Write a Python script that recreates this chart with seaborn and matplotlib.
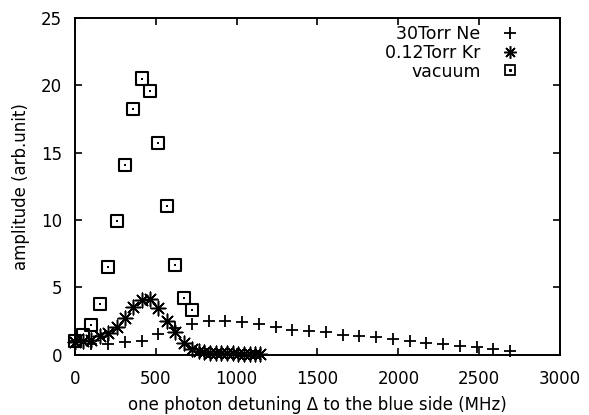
import numpy as np
import pandas as pd
import matplotlib
matplotlib.use("Agg")
import matplotlib.pyplot as plt
from matplotlib.lines import Line2D
from matplotlib.legend_handler import HandlerTuple
import seaborn as sns

# ---- data ----
ne_x = [0, 103, 207, 310, 414, 517, 621, 724, 828, 931, 1035, 1138, 1242, 1345,
        1449, 1552, 1656, 1759, 1863, 1966, 2070, 2173, 2277, 2380, 2484, 2587, 2691]
ne_y = [1.0, 0.8, 0.8, 0.93, 1.05, 1.55, 2.0, 2.3, 2.5, 2.5, 2.43, 2.25, 2.05, 1.85,
        1.75, 1.68, 1.5, 1.43, 1.3, 1.18, 1.0, 0.85, 0.8, 0.68, 0.55, 0.43, 0.3]

kr_x = [0, 52, 103, 155, 207, 259, 310, 362, 414, 466, 517, 569, 621, 673, 724,
        765, 800, 835, 870, 905, 940, 975, 1010, 1045, 1080, 1115, 1145]
kr_y = [0.95, 1.0, 1.08, 1.4, 1.65, 2.07, 2.7, 3.55, 4.05, 4.17, 3.48, 2.5, 1.7, 0.9, 0.4,
        0.25, 0.18, 0.14, 0.12, 0.1, 0.1, 0.1, 0.08, 0.08, 0.08, 0.08, 0.08]

vac_x = [0, 51, 103, 155, 207, 259, 310, 362, 414, 466, 517, 569, 621, 673, 724]
vac_y = [1.0, 1.45, 2.2, 3.75, 6.5, 9.95, 14.1, 18.25, 20.5, 19.6, 15.75, 11.05, 6.7, 4.25, 3.3]

series_labels = ["30Torr Ne", "0.12Torr Kr", "vacuum"]
x_ticks = [0, 500, 1000, 1500, 2000, 2500, 3000]
y_ticks = [0, 5, 10, 15, 20, 25]

sns.set_style("ticks")
plt.rcParams["font.family"] = ["DejaVu Sans"]
plt.rcParams["font.size"] = 12
plt.rcParams["text.color"] = "black"
plt.rcParams["axes.labelcolor"] = "black"
plt.rcParams["xtick.color"] = "black"
plt.rcParams["ytick.color"] = "black"

fig = plt.figure(figsize=(5.89, 4.15), dpi=100)
ax = fig.add_axes([0.127, 0.145, 0.824, 0.812])

ne = pd.DataFrame({"x": ne_x, "y": ne_y})
kr = pd.DataFrame({"x": kr_x, "y": kr_y})
vac = pd.DataFrame({"x": vac_x, "y": vac_y})

star = (8, 2, 0)
sns.scatterplot(data=ne, x="x", y="y", ax=ax, marker="+", s=80, color="black",
                linewidth=1.3, legend=False, zorder=3, clip_on=False)
sns.scatterplot(data=kr, x="x", y="y", ax=ax, marker=star, s=110, color="black",
                linewidth=1.1, legend=False, zorder=3, clip_on=False)
sns.scatterplot(data=vac, x="x", y="y", ax=ax, marker="s", s=75, facecolor="none",
                edgecolor="black", linewidth=1.5, legend=False, zorder=3, clip_on=False)
sns.scatterplot(data=vac, x="x", y="y", ax=ax, marker="s", s=2, color="black",
                linewidth=0, legend=False, zorder=3, clip_on=False)

ax.set_xlim(0, 3000)
ax.set_ylim(0, 25)
ax.set_xticks(x_ticks)
ax.set_yticks(y_ticks)
ax.tick_params(direction="in", top=True, right=True, length=5, width=1.2,
               labelsize=12, colors="black", labelcolor="black")
ax.tick_params(axis="x", pad=11)
ax.tick_params(axis="y", pad=9)
for sp in ax.spines.values():
    sp.set_visible(True)
    sp.set_linewidth(1.4)
    sp.set_color("black")

ax.set_xlabel("one photon detuning \u0394 to the blue side (MHz)", fontsize=12,
              labelpad=6, color="black")
ax.set_ylabel("amplitude (arb.unit)", fontsize=12, labelpad=8, color="black")

h_ne = Line2D([], [], linestyle="", marker="+", markersize=8, markeredgewidth=1.3, color="black")
h_kr = Line2D([], [], linestyle="", marker=star, markersize=9, markeredgewidth=1.1, color="black")
h_sq = Line2D([], [], linestyle="", marker="s", markersize=7, markerfacecolor="none",
              markeredgecolor="black", markeredgewidth=1.3)
h_dot = Line2D([], [], linestyle="", marker="s", markersize=1.2, color="black")
leg = ax.legend([h_ne, h_kr, (h_sq, h_dot)], series_labels,
                handler_map={tuple: HandlerTuple(ndivide=1)},
                loc="upper right", bbox_to_anchor=(0.94, 1.0),
                markerfirst=False, frameon=False,
                fontsize=12.5, handlelength=1.6, handletextpad=0.9,
                labelspacing=0.05, borderaxespad=0.0, borderpad=0.4)
for t in leg.get_texts():
    t.set_color("black")

fig.savefig("out.png", dpi=100)
